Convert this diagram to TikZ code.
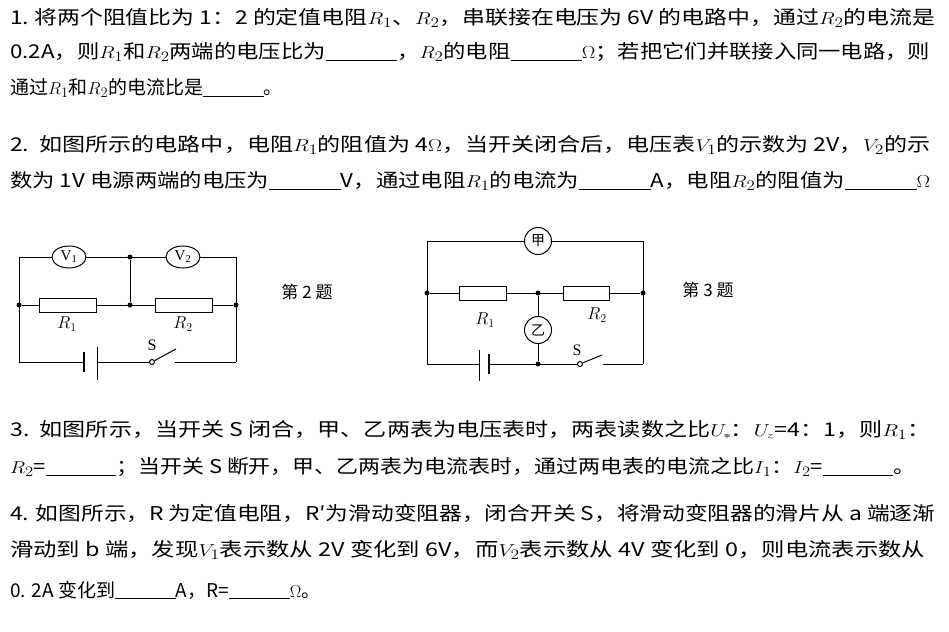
\documentclass[tikz,border=0pt]{standalone}
\usepackage{fontspec}
\usetikzlibrary{shapes.geometric}
\setmainfont{Noto Sans CJK SC}
\newfontfamily\lat{Liberation Serif}
\newcommand{\bl}[1][3.2em]{\underline{\hspace{#1}}}
\begin{document}
\begin{tikzpicture}[x=1pt,y=-1pt,
  txt/.style={anchor=west,inner sep=0pt,font=\fontsize{19}{19}\selectfont},
  wire/.style={line width=1pt},
  res/.style={draw,line width=1pt,fill=white,minimum width=57pt,minimum height=14pt,inner sep=0pt},
  meter/.style={draw,line width=1pt,fill=white,ellipse,minimum width=34pt,minimum height=22pt,inner sep=0pt,font=\lat\fontsize{15}{15}\selectfont},
  cmeter/.style={draw,line width=1pt,fill=white,circle,minimum size=27pt,inner sep=0pt,font=\fontsize{14}{14}\selectfont},
  dot/.style={circle,fill,inner sep=0pt,minimum size=5pt},
  lab/.style={font=\fontsize{17}{17}\selectfont}]
\useasboundingbox (0,0) rectangle (949,631);
\newcommand{\fw}[2]{\resizebox{#1pt}{\height}{#2}}
% text
\node[txt] (l1) at (10,18) {\fw{925}{1.\ 将两个阻值比为 1：2 的定值电阻$R_1$、$R_2$，串联接在电压为 6V 的电路中，通过$R_2$的电流是}};
\node[txt] (l2) at (10,52) {\fw{920}{0.2A，则$R_1$和$R_2$两端的电压比为\bl，$R_2$的电阻\bl$\Omega$；若把它们并联接入同一电路，则}};
\node[txt] (l3) at (10,88) {通过$R_1$和$R_2$的电流比是\bl。};
\node[txt] (l4) at (10,145) {\fw{920}{2.\ \ 如图所示的电路中，电阻$R_1$的阻值为 4$\Omega$，当开关闭合后，电压表$V_1$的示数为 2V，$V_2$的示}};
\node[txt] (l5) at (10,181) {\fw{920}{数为 1V 电源两端的电压为\bl V，通过电阻$R_1$的电流为\bl A，电阻$R_2$的阻值为\bl$\Omega$}};
\node[txt] (l6) at (10,430) {\fw{920}{3.\ \ 如图所示，当开关 S 闭合，甲、乙两表为电压表时，两表读数之比$U_{\mbox{\tiny 甲}}$：$U_{\mbox{\tiny 乙}}$=4：1，则$R_1$：}};
\node[txt] (l7) at (10,467) {\fw{905}{$R_2$=\bl；当开关 S 断开，甲、乙两表为电流表时，通过两电表的电流之比$I_1$：$I_2$=\bl。}};
\node[txt] (l8) at (10,513) {\fw{925}{4. 如图所示，R 为定值电阻，R′为滑动变阻器，闭合开关 S，将滑动变阻器的滑片从 a 端逐渐}};
\node[txt] (l9) at (10,550) {\fw{915}{滑动到 b 端，发现$V_1$表示数从 2V 变化到 6V，而$V_2$表示数从 4V 变化到 0，则电流表示数从}};
\node[txt] (l10) at (10,590) {0. 2A 变化到\bl A，R=\bl$\Omega$。};
% circuit 2
\coordinate (aTL) at (19,257); \coordinate (aTR) at (236,257);
\coordinate (aBL) at (19,362); \coordinate (aBR) at (236,362);
\node[dot] (aL) at (19,305) {}; \node[dot] (aM) at (130,305) {}; \node[dot] (aR) at (236,305) {};
\node[dot] (aT) at (130,257) {};
\draw[wire] (aBL) -- (aTL) -- (aTR) -- (aBR);
\draw[wire] (aL) -- (aR); \draw[wire] (aT) -- (aM);
\node[res] (aR1) at (68,305) {}; \node[res] (aR2) at (184,305) {};
\node[meter] (aV1) at (69,257) {V\textsubscript{1}};
\node[meter] (aV2) at (183,257) {V\textsubscript{2}};
\node[lab] at (67,324) {$R_1$}; \node[lab] at (183,324) {$R_2$};
\coordinate (aB1) at (84,362); \coordinate (aB2) at (97,362);
\node[circle,draw,line width=1pt,inner sep=0pt,minimum size=5pt] (aS) at (152,362) {};
\coordinate (aSe) at (175,362);
\draw[wire] (aBL) -- (aB1); \draw[wire] (aB2) -- (aS);
\draw[line width=2pt] (84,352) -- (84,372); \draw[wire] (97,347) -- (97,380);
\draw[wire] (aS) -- (176,349); \draw[wire] (aSe) -- (aBR);
\node[lab,font=\lat\fontsize{16}{16}\selectfont] at (152,345) {S};
\node[lab] at (307,292) {第 2 题};
% circuit 3
\coordinate (bTL) at (427,241); \coordinate (bTR) at (643,241);
\coordinate (bBL) at (427,364); \coordinate (bBR) at (643,364);
\node[dot] (bL) at (427,293) {}; \node[dot] (bM) at (538,293) {}; \node[dot] (bR) at (643,293) {};
\node[dot] (bB) at (538,364) {};
\draw[wire] (bBL) -- (bTL) -- (bTR) -- (bBR);
\draw[wire] (bL) -- (bR); \draw[wire] (bM) -- (bB);
\node[res,minimum width=47pt] (bR1) at (483,293) {}; \node[res,minimum width=46pt] (bR2) at (586,293) {};
\node[cmeter] (bJ) at (538,241) {甲};
\node[cmeter] (bY) at (538,330) {乙};
\node[lab] at (485,320) {$R_1$}; \node[lab] at (597,315) {$R_2$};
\coordinate (bB1) at (479,364); \coordinate (bB2) at (489,364);
\node[circle,draw,line width=1pt,inner sep=0pt,minimum size=5pt] (bS) at (580,364) {};
\coordinate (bSe) at (603,364);
\draw[wire] (bBL) -- (bB1); \draw[wire] (bB2) -- (bS);
\draw[line width=2pt] (bB2) ++(0,-10) -- ++(0,20);
\draw[wire] (479,350) -- (479,381);
\draw[wire] (bS) -- (602,355); \draw[wire] (bSe) -- (bBR);
\node[lab,font=\lat\fontsize{16}{16}\selectfont] at (577,350) {S};
\node[lab] at (708,290) {第 3 题};
\end{tikzpicture}
\end{document}
